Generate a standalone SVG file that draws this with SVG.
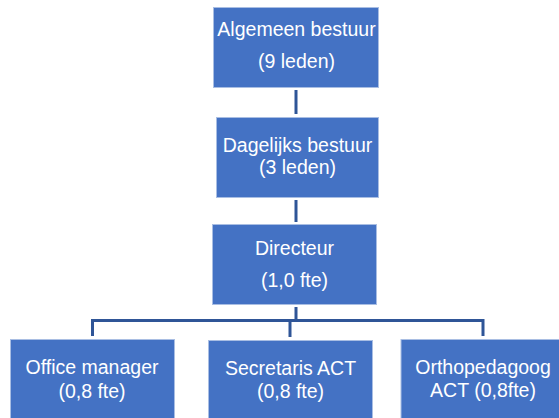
<svg xmlns="http://www.w3.org/2000/svg" width="559" height="418" viewBox="0 0 559 418">
<style>
.box{fill:#4472C4;stroke:#A9BEE3;stroke-width:1}
.lbl{font-family:"Liberation Sans",Arial,sans-serif;font-size:19.5px;fill:#FFFFFF;text-anchor:middle}
.con{fill:none;stroke:#2F5597;stroke-width:3}
</style>
<rect width="559" height="418" fill="#FFFFFF"/>
<g id="connectors">
<line class="con" x1="296" y1="90" x2="296" y2="114"/>
<line class="con" x1="296" y1="200" x2="296" y2="222"/>
<polyline class="con" points="296,307 296,320.5"/>
<polyline class="con" points="92.5,336 92.5,320.5 483,320.5 483,336"/>
<line class="con" x1="290" y1="320.5" x2="290" y2="337"/>
</g>
<g id="algemeen-bestuur">
<rect class="box" x="213.5" y="7.5" width="165" height="80"/>
<text class="lbl" x="296.5" y="36">Algemeen bestuur</text>
<text class="lbl" x="296.5" y="68">(9 leden)</text>
</g>
<g id="dagelijks-bestuur">
<rect class="box" x="216.5" y="117.5" width="162" height="80"/>
<text class="lbl" x="297.5" y="152">Dagelijks bestuur</text>
<text class="lbl" x="297.5" y="174">(3 leden)</text>
</g>
<g id="directeur">
<rect class="box" x="212.5" y="224.5" width="164" height="80"/>
<text class="lbl" x="294.5" y="255">Directeur</text>
<text class="lbl" x="294.5" y="287">(1,0 fte)</text>
</g>
<g id="office-manager">
<rect class="box" x="10.5" y="339.5" width="164" height="85"/>
<text class="lbl" x="92" y="374">Office manager</text>
<text class="lbl" x="92" y="398">(0,8 fte)</text>
</g>
<g id="secretaris-act">
<rect class="box" x="208.5" y="340.5" width="164" height="85"/>
<text class="lbl" x="290.5" y="375">Secretaris ACT</text>
<text class="lbl" x="290.5" y="398">(0,8 fte)</text>
</g>
<g id="orthopedagoog-act">
<rect class="box" x="401" y="339.5" width="164" height="85"/>
<text class="lbl" x="483" y="374">Orthopedagoog</text>
<text class="lbl" x="483" y="397">ACT (0,8fte)</text>
</g>
</svg>
